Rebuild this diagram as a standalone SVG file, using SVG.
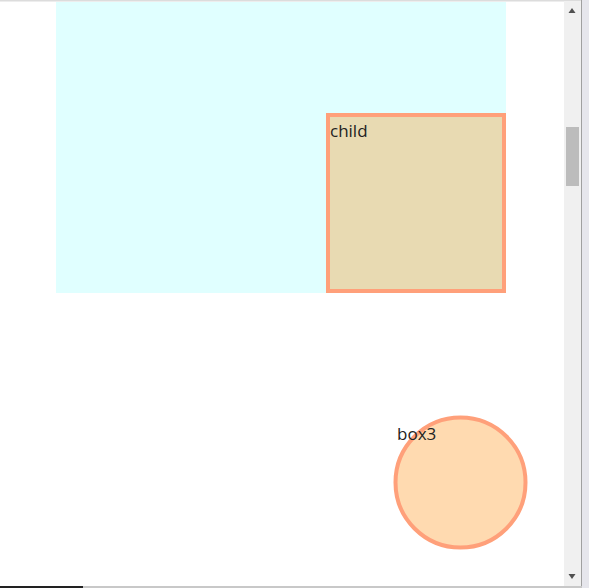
<svg xmlns="http://www.w3.org/2000/svg" width="589" height="588" viewBox="0 0 589 588">
<style>
.lbl{font-family:"Open Sans","Noto Sans","Liberation Sans",sans-serif;font-size:17px;fill:#222}
.node{stroke:#FFA07A;stroke-width:4}
</style>
<rect x="0" y="0" width="589" height="588" fill="#ffffff"/>
<g id="parent">
<rect x="56" y="2" width="450" height="291" fill="#E0FFFF"/>
</g>
<g id="child">
<rect class="node" x="328" y="115" width="176" height="176" fill="#E8DAB2"/>
<text class="lbl" x="330" y="137">child</text>
</g>
<g id="box3">
<circle class="node" cx="460.5" cy="482.5" r="65" fill="#FFDAB0"/>
<text class="lbl" x="397" y="440">box3</text>
</g>
<g id="connectors"></g>
<g id="chrome">
<rect x="0" y="0" width="582" height="1.5" fill="#dcdcdc"/>
<rect x="564" y="1" width="17" height="586" fill="#f0f0f0"/>
<rect x="566" y="127" width="13" height="59" fill="#bcbcbc"/>
<polygon points="568.5,13 575.5,13 572,8" fill="#505050"/>
<polygon points="568.5,574 575.5,574 572,579" fill="#505050"/>
<rect x="581" y="0" width="1" height="588" fill="#a0a0a0"/>
<rect x="582" y="0" width="7" height="588" fill="#e6e6ec"/>
<rect x="0" y="586" width="83" height="2" fill="#222"/>
<rect x="83" y="586" width="499" height="2" fill="#c8c8c8"/>
</g>
</svg>
